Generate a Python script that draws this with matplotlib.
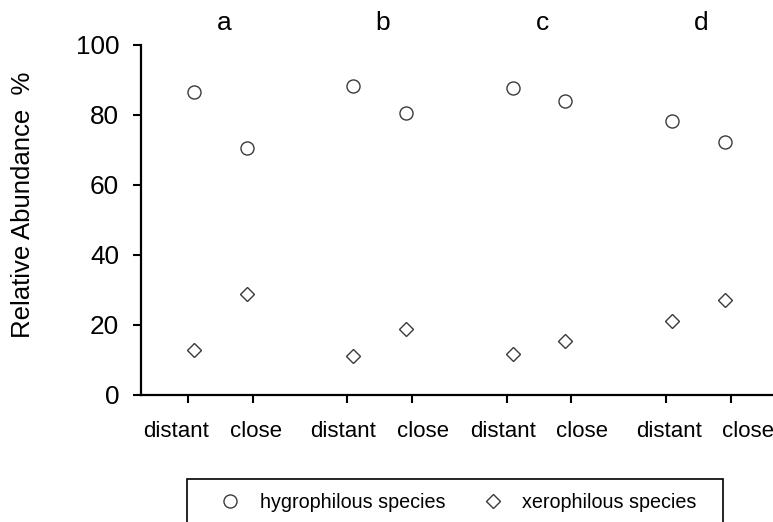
import matplotlib
matplotlib.use("Agg")
import matplotlib.pyplot as plt
import matplotlib.transforms as mtransforms
from matplotlib.patches import Rectangle
import numpy as np

plt.rcParams["font.family"] = ["Liberation Sans", "DejaVu Sans"]

# relative abundance (%) per group, ordered distant, close
groups = ["a", "b", "c", "d"]
sites = ["distant", "close"]
hygrophilous = [86.7, 70.7, 88.3, 80.7, 87.6, 84.1, 78.4, 72.4]
xerophilous = [12.9, 28.9, 11.1, 18.8, 11.8, 15.4, 21.1, 27.2]
y_ticks = [0, 20, 40, 60, 80, 100]

TICK_OFF = 0.204   # tick offset from group centre
MARK_OFF = 0.166   # marker offset from group centre
# category labels sit on their own grid, not under the ticks
LABEL_X = [-0.277, 0.222, 0.769, 1.271, 1.774, 2.270, 2.817, 3.310]
EDGE = "#3a3a3a"

centres = np.arange(len(groups))
tick_x = np.concatenate([[c - TICK_OFF, c + TICK_OFF] for c in centres])
mark_x = np.concatenate([[c - MARK_OFF, c + MARK_OFF] for c in centres])

W, H = 773, 522
fig = plt.figure(figsize=(W / 100, H / 100), dpi=100)
ax = fig.add_axes([141 / W, 1 - 395 / H, 1 - 141 / W, (395 - 45) / H])

h1, = ax.plot(mark_x, hygrophilous, ls="none", marker="o", ms=9.4,
              mfc="white", mec=EDGE, mew=1.0, clip_on=False,
              label="hygrophilous species")
h2, = ax.plot(mark_x, xerophilous, ls="none", marker="D", ms=6.9,
              mfc="white", mec=EDGE, mew=1.0, clip_on=False,
              label="xerophilous species")

ax.set_xlim(-0.5, 3.47)
ax.set_ylim(0, 100)
ax.set_yticks(y_ticks)
ax.set_xticks(tick_x)
ax.set_xticklabels([])

for side in ("top", "right"):
    ax.spines[side].set_visible(False)
for side in ("left", "bottom"):
    ax.spines[side].set_linewidth(1.6)
    ax.spines[side].set_color("black")

ax.tick_params(axis="y", direction="out", length=5.8, width=1.5,
               labelsize=18.8, pad=10)
ax.tick_params(axis="x", direction="out", length=5.8, width=1.5)

trans = mtransforms.blended_transform_factory(ax.transData, ax.transAxes)
for x, s in zip(LABEL_X, sites * len(groups)):
    ax.text(x, -0.12, s, transform=trans, ha="center", va="baseline",
            fontsize=16, clip_on=False)

# group letters above the plot
for c, g in zip(centres, groups):
    ax.text(c + 0.02, 1.043, g, transform=trans, ha="center",
            va="baseline", fontsize=19)

fig.text(23 / W, 1 - 205 / H, "Relative Abundance  %", rotation=90,
         ha="center", va="center", fontsize=18.5)

# legend with an open-bottomed frame running off the figure
fig.add_artist(Rectangle((187 / W, -0.05), (723 - 187) / W,
                         (1 - 479 / H) + 0.05, transform=fig.transFigure,
                         fill=False, ec="black", lw=1.2, clip_on=False))
fig.legend(handles=[h1, h2], loc="center left",
           bbox_to_anchor=(220.5 / W, 1 - 502 / H), ncol=2, frameon=False,
           fontsize=14.2, handlelength=1.0, handletextpad=1.0,
           columnspacing=1.9, borderpad=0, borderaxespad=0)

fig.savefig("out.png", dpi=100)
